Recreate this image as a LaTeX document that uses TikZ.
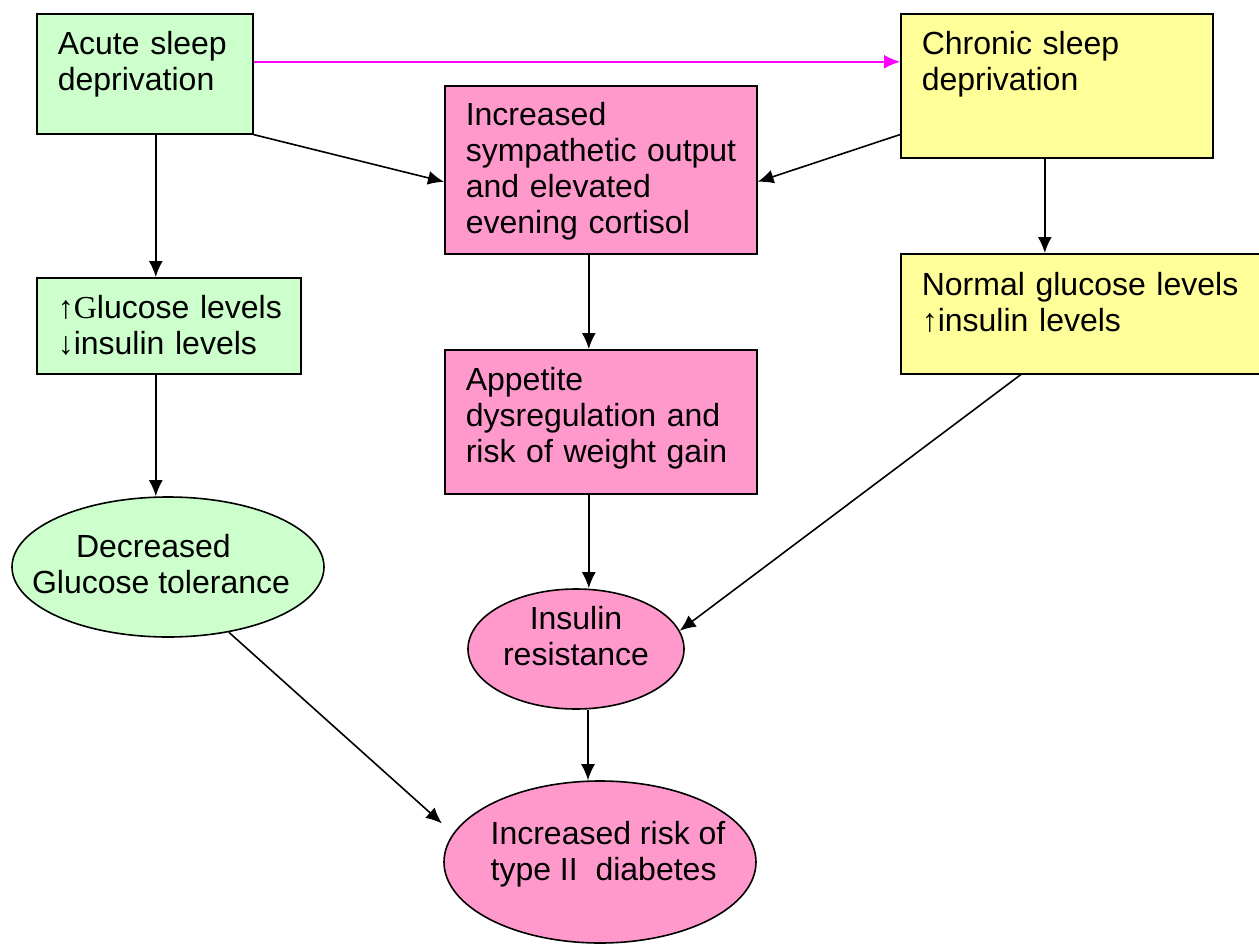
\documentclass[tikz,border=0pt]{standalone}
\usepackage{fontspec}
\setmainfont{Liberation Sans}
\newfontfamily\arrowfont{Liberation Serif}
\usetikzlibrary{arrows.meta,positioning,shapes.geometric}

\definecolor{acutegreen}{HTML}{CCFFCC}
\definecolor{chronicyellow}{HTML}{FFFF99}
\definecolor{effectpink}{HTML}{FF99CC}
\definecolor{linkmagenta}{HTML}{FF00FF}

\tikzset{
	card/.style={draw, line width=1.6pt, anchor=north west, inner xsep=21pt, inner ysep=0pt,
		align=left, text height=41pt, font=\fontsize{32}{36}\selectfont},
	oval/.style={draw, ellipse, line width=1.6pt, inner xsep=-40pt, inner ysep=-20pt,
		text height=70pt, font=\fontsize{32}{36}\selectfont},
}

\begin{document}
\begin{tikzpicture}[x=1pt, y=-1pt, ->, >={Latex[length=16pt,width=14pt]}, line width=1.6pt]
	% Page frame
	\path[use as bounding box, fill=white] (0,0) rectangle (1259,945);
	% Draw boxes
	\node[card, fill=acutegreen, text width=174pt, text depth=79pt] (acute) at (36,13) {Acute sleep\\deprivation};
	\node[card, fill=chronicyellow, text width=270pt, text depth=103pt] (chronic) at (900,13) {Chronic sleep\\deprivation};
	\node[card, fill=effectpink, text width=270pt, text height=40pt, text depth=128pt] (sympa) at (444,85) {Increased\\\mbox{sympathetic output}\\and elevated\\evening cortisol};
	\node[card, fill=acutegreen, text width=222pt, text depth=55pt] (gluc) at (36,277) {\mbox{{\arrowfont ↑G}lucose levels}\\{\arrowfont ↓}insulin levels};
	\node[card, fill=chronicyellow, text width=320pt, text height=42pt, text depth=78pt] (normal) at (900,253) {Normal glucose levels\\{\arrowfont ↑}insulin levels};
	\node[card, fill=effectpink, text width=270pt, text depth=103pt] (appetite) at (444,349) {Appetite\\\mbox{dysregulation and}\\\mbox{risk of weight gain}};
	% Draw ellipses
	\node[oval, fill=acutegreen, align=left, text depth=18pt, minimum width=312pt, minimum height=140pt] (decr) at (168,567) {\hspace*{44pt}Decreased\\Glucose tolerance\hspace*{14pt}};
	\node[oval, fill=effectpink, align=center, text depth=38pt, minimum width=216pt, minimum height=120pt] (ins) at (576,649) {Insulin\\resistance};
	\node[oval, fill=effectpink, align=left, text depth=34pt, minimum width=312pt, minimum height=162pt] (risk) at (600,862) {\hspace*{16pt}Increased risk of\\\hspace*{16pt}type II\ \ diabetes};
	% Draw arrows
	\draw[linkmagenta] ([yshift=12pt]acute.east) -- ([yshift=12pt]acute.east -| chronic.west);
	\draw ([xshift=11pt]acute.south) -- ([xshift=11pt]acute.south |- gluc.north);
	\draw (acute.south east) -- ([yshift=-12pt]sympa.west);
	\draw ([yshift=24pt]chronic.south west) -- ([yshift=-12pt]sympa.east);
	\draw ([xshift=-12pt]chronic.south) -- ([xshift=-12pt]chronic.south |- normal.north);
	\draw ([xshift=-12pt]sympa.south) -- ([xshift=-12pt]appetite.north);
	\draw ([xshift=-13pt]gluc.south) -- ([xshift=-13pt]gluc.south |- decr.north);
	\draw ([xshift=-12pt]appetite.south) -- ([xshift=-12pt]appetite.south |- ins.north);
	\draw ([xshift=-61pt]normal.south) -- (ins.10);
	\draw[shorten >=15pt] (decr.-47) -- (risk.169);
	\draw ([xshift=12pt]ins.south) -- ([xshift=12pt]ins.south |- risk.north);
\end{tikzpicture}
\end{document}
